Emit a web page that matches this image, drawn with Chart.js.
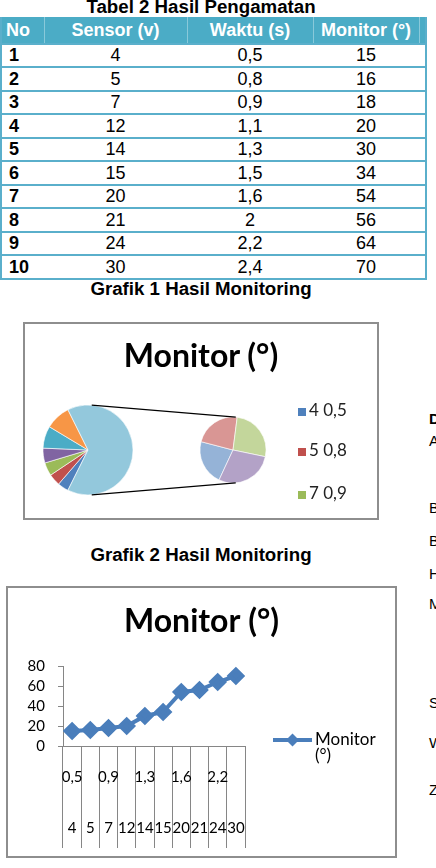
<!DOCTYPE html>
<html>
<head>
<meta charset="utf-8">
<script src="https://cdn.jsdelivr.net/npm/chart.js@4.4.1/dist/chart.umd.min.js"></script>
<style>
html,body{margin:0;padding:0;background:#fff;}
body{width:436px;height:868px;position:relative;overflow:hidden;font-family:"Liberation Sans",Arial,sans-serif;color:#000;}
.cap{position:absolute;left:0;width:402px;text-align:center;font-weight:bold;font-size:18.7px;line-height:18.7px;white-space:nowrap;}
#tbl{position:absolute;left:0;top:17px;border-collapse:collapse;table-layout:fixed;width:425px;font-size:18px;}
#tbl th{background:#4BACC6;color:#fff;font-weight:bold;height:24.7px;padding:0;padding-top:1px;border-right:1px solid rgba(255,255,255,0.35);white-space:nowrap;}
#tbl td{height:21.5px;padding:0;text-align:center;border-top:2px solid #5AAFCB;white-space:nowrap;line-height:20px;}
#tbl td.no{text-align:left;padding-left:7px;font-weight:bold;}
#tbl th.no{text-align:left;padding-left:4px;}
#tbl tr:last-child td{border-bottom:2px solid #5AAFCB;}
#tbl td:first-child,#tbl th:first-child{border-left:2px solid #5AAFCB;}
#tbl td:last-child,#tbl th:last-child{border-right:2px solid #5AAFCB;}
.box{position:absolute;box-sizing:border-box;border:2px solid #8e8e8e;pointer-events:none;}
canvas{position:absolute;}
#pieTitle{position:absolute;left:23px;width:356px;top:338.6px;text-align:center;font-family:Lato,sans-serif;font-weight:bold;font-size:32px;line-height:32px;white-space:nowrap;}
.lg{position:absolute;left:298px;font-family:Lato,sans-serif;font-size:17px;line-height:17px;white-space:nowrap;color:#222;}
.lg i{display:inline-block;width:8px;height:8px;margin-right:3px;vertical-align:0px;}
.side{position:absolute;left:429px;font-size:15px;line-height:15px;white-space:nowrap;}
</style>
</head>
<body>
<div class="cap" style="top:-2.3px;">Tabel 2 Hasil Pengamatan</div>
<table id="tbl">
<colgroup><col style="width:43px"><col style="width:143px"><col style="width:126px"><col style="width:106px"><col style="width:7px"></colgroup>
<thead><tr id="hdr"></tr></thead>
<tbody id="tb"></tbody>
</table>
<div class="cap" style="top:280.2px;">Grafik 1 Hasil Monitoring</div>

<canvas id="pieMain" width="356" height="198" style="left:23px;top:322px;"></canvas>
<canvas id="pieSub" width="356" height="198" style="left:23px;top:322px;"></canvas>
<div class="box" style="left:23px;top:322px;width:356px;height:198px;"></div>
<div id="pieTitle">Monitor (°)</div>
<div id="pieLegend"></div>

<div class="cap" style="top:546.2px;">Grafik 2 Hasil Monitoring</div>
<canvas id="lineChart" width="391" height="272" style="left:6px;top:586px;"></canvas>
<div class="box" style="left:6px;top:586px;width:391px;height:272px;"></div>

<div class="side" style="top:410.7px;font-weight:bold;">D</div>
<div class="side" style="top:432.7px;">A</div>
<div class="side" style="top:499.7px;">B</div>
<div class="side" style="top:532.7px;">B</div>
<div class="side" style="top:565.7px;">H</div>
<div class="side" style="top:595.7px;">M</div>
<div class="side" style="top:694.7px;">S</div>
<div class="side" style="top:734.7px;">W</div>
<div class="side" style="top:781.7px;">Z</div>

<script>
// ---- data ----
const headers = ["No", "Sensor (v)", "Waktu (s)", "Monitor (°)"];
const nomor   = [1, 2, 3, 4, 5, 6, 7, 8, 9, 10];
const sensor  = [4, 5, 7, 12, 14, 15, 20, 21, 24, 30];
const waktu   = ["0,5", "0,8", "0,9", "1,1", "1,3", "1,5", "1,6", "2", "2,2", "2,4"];
const monitor = [15, 16, 18, 20, 30, 34, 54, 56, 64, 70];
const yTicks  = [0, 20, 40, 60, 80];
const chartTitle = "Monitor (°)";
const pieLegendCount = 3;         // legend items visible in the reference
const secondPlotCount = 4;        // last values split into the secondary pie
const mainColors = ["#4F81BD", "#C0504D", "#9BBB59", "#8064A2", "#4BACC6", "#F79646", "#93C8DC"];
const subColors  = ["#95B3D7", "#D99694", "#C3D69B", "#B3A2C7"];

// ---- table ----
const hdr = document.getElementById('hdr');
headers.forEach((h, i) => { const th = document.createElement('th'); th.textContent = h; if (i === 0) th.className = 'no'; hdr.appendChild(th); });
hdr.appendChild(document.createElement('th'));
const tb = document.getElementById('tb');
nomor.forEach((n, i) => {
  const tr = document.createElement('tr');
  [n, sensor[i], waktu[i], monitor[i], ''].forEach((v, j) => {
    const td = document.createElement('td'); td.textContent = v; if (j === 0) td.className = 'no'; tr.appendChild(td);
  });
  tb.appendChild(tr);
});

// ---- pie of pie ----
const pieLabels = sensor.map((s, i) => s + " " + waktu[i]);
const nMain = monitor.length - secondPlotCount;
const mainValues = monitor.slice(0, nMain).concat([monitor.slice(nMain).reduce((a, b) => a + b, 0)]);
const subValues = monitor.slice(nMain);

const pieLegend = document.getElementById('pieLegend');
const legendY = [401, 441, 484];
for (let i = 0; i < pieLegendCount; i++) {
  const d = document.createElement('div'); d.className = 'lg'; d.style.top = legendY[i] + 'px';
  d.innerHTML = '<i style="background:' + mainColors[i] + '"></i>';
  d.appendChild(document.createTextNode(pieLabels[i]));
  pieLegend.appendChild(d);
}

Chart.defaults.animation = false;
Chart.defaults.events = [];

const mainChart = new Chart(document.getElementById('pieMain'), {
  type: 'pie',
  data: { labels: pieLabels.slice(0, nMain).concat(['Other']), datasets: [{ data: mainValues, backgroundColor: mainColors, borderColor: 'rgba(255,255,255,0.6)', borderWidth: 1, hoverOffset: 0 }] },
  options: { responsive: false, rotation: 206.5, radius: 45, layout: { padding: { left: 20, top: 83, right: 246, bottom: 25 } },
    plugins: { legend: { display: false }, tooltip: { enabled: false }, title: { display: false } } }
});

const connector = {
  id: 'connector',
  afterDraw(chart) {
    const a = mainChart.getDatasetMeta(0).data[0];
    const b = chart.getDatasetMeta(0).data[0];
    const x1 = a.x, y1 = a.y, r1 = a.outerRadius, x2 = b.x, y2 = b.y, r2 = b.outerRadius;
    const D = Math.hypot(x2 - x1, y2 - y1), phi = Math.atan2(y2 - y1, x2 - x1);
    const t = Math.acos((r1 - r2) / D);
    const ctx = chart.ctx; ctx.save(); ctx.strokeStyle = '#000'; ctx.lineWidth = 1.3;
    [phi - t, phi + t].forEach(th => {
      ctx.beginPath();
      ctx.moveTo(x1 + r1 * Math.cos(th), y1 + r1 * Math.sin(th));
      ctx.lineTo(x2 + r2 * Math.cos(th), y2 + r2 * Math.sin(th));
      ctx.stroke();
    });
    ctx.restore();
  }
};

new Chart(document.getElementById('pieSub'), {
  type: 'pie',
  data: { labels: pieLabels.slice(nMain), datasets: [{ data: subValues, backgroundColor: subColors, borderColor: 'rgba(255,255,255,0.6)', borderWidth: 1, hoverOffset: 0 }] },
  options: { responsive: false, rotation: 205, radius: 33, layout: { padding: { left: 170, top: 88, right: 106, bottom: 30 } },
    plugins: { legend: { display: false }, tooltip: { enabled: false } } },
  plugins: [connector]
});

// ---- line chart ----
const lineLegend = {
  id: 'lineLegend',
  afterDraw(chart) {
    const ca = chart.chartArea, ctx = chart.ctx, ds = chart.data.datasets[0];
    const y = ca.bottom - 6, x0 = ca.right + 28, x1 = ca.right + 67;
    ctx.save();
    ctx.strokeStyle = ds.borderColor; ctx.lineWidth = ds.borderWidth;
    ctx.beginPath(); ctx.moveTo(x0, y); ctx.lineTo(x1, y); ctx.stroke();
    ctx.fillStyle = ds.pointBackgroundColor;
    ctx.beginPath();
    const r = ds.pointRadius, cx = (x0 + x1) / 2;
    ctx.moveTo(cx - r, y); ctx.lineTo(cx, y - r); ctx.lineTo(cx + r, y); ctx.lineTo(cx, y + r); ctx.closePath(); ctx.fill();
    ctx.fillStyle = '#000'; ctx.font = '17px Lato'; ctx.textBaseline = 'middle'; ctx.textAlign = 'left';
    ds.legendLines.forEach((t, i) => ctx.fillText(t, ca.right + 70, y + i * 16));
    ctx.restore();
  }
};

const axisFont = { family: 'Lato', size: 15, lineHeight: '17px' };
new Chart(document.getElementById('lineChart'), {
  type: 'line',
  data: { labels: waktu, datasets: [{ label: chartTitle, legendLines: ['Monitor', '(°)'], data: monitor, borderColor: '#4A7EBB', backgroundColor: '#4A7EBB',
    pointBackgroundColor: '#4A7EBB', pointBorderColor: '#4A7EBB', borderWidth: 4, pointStyle: 'rectRot', pointRadius: 6.5, tension: 0 }] },
  options: {
    responsive: false,
    layout: { padding: 0 },
    plugins: {
      legend: { display: false }, tooltip: { enabled: false },
      title: { display: true, text: chartTitle, color: '#000', font: { family: 'Lato', size: 32, weight: 'bold', lineHeight: 1.2 }, padding: { top: 16.4, bottom: 25.2 } }
    },
    scales: {
      x: { type: 'category', offset: true,
        grid: { offset: true, drawOnChartArea: false, drawTicks: true, tickLength: 102, color: '#868686' },
        border: { color: '#868686' },
        ticks: { autoSkip: false, maxRotation: 0, minRotation: 0, padding: -79.5, color: '#000', font: axisFont,
          callback: (v, i) => [i % 2 === 0 ? waktu[i] : '', '', '', String(sensor[i])] },
        afterFit: s => { s.height = 112; } },
      y: { min: yTicks[0], max: yTicks[yTicks.length - 1],
        afterBuildTicks: s => { s.ticks = yTicks.map(v => ({ value: v })); },
        grid: { drawOnChartArea: false, drawTicks: true, tickLength: 5, color: '#868686' },
        border: { color: '#868686' },
        ticks: { padding: 13, color: '#000', font: axisFont },
        afterFit: s => { s.width = 57; } },
      y2: { position: 'right', display: true, grid: { display: false }, border: { display: false }, ticks: { display: false },
        afterFit: s => { s.width = 152; } }
    }
  },
  plugins: [lineLegend]
});
</script>
</body>
</html>
